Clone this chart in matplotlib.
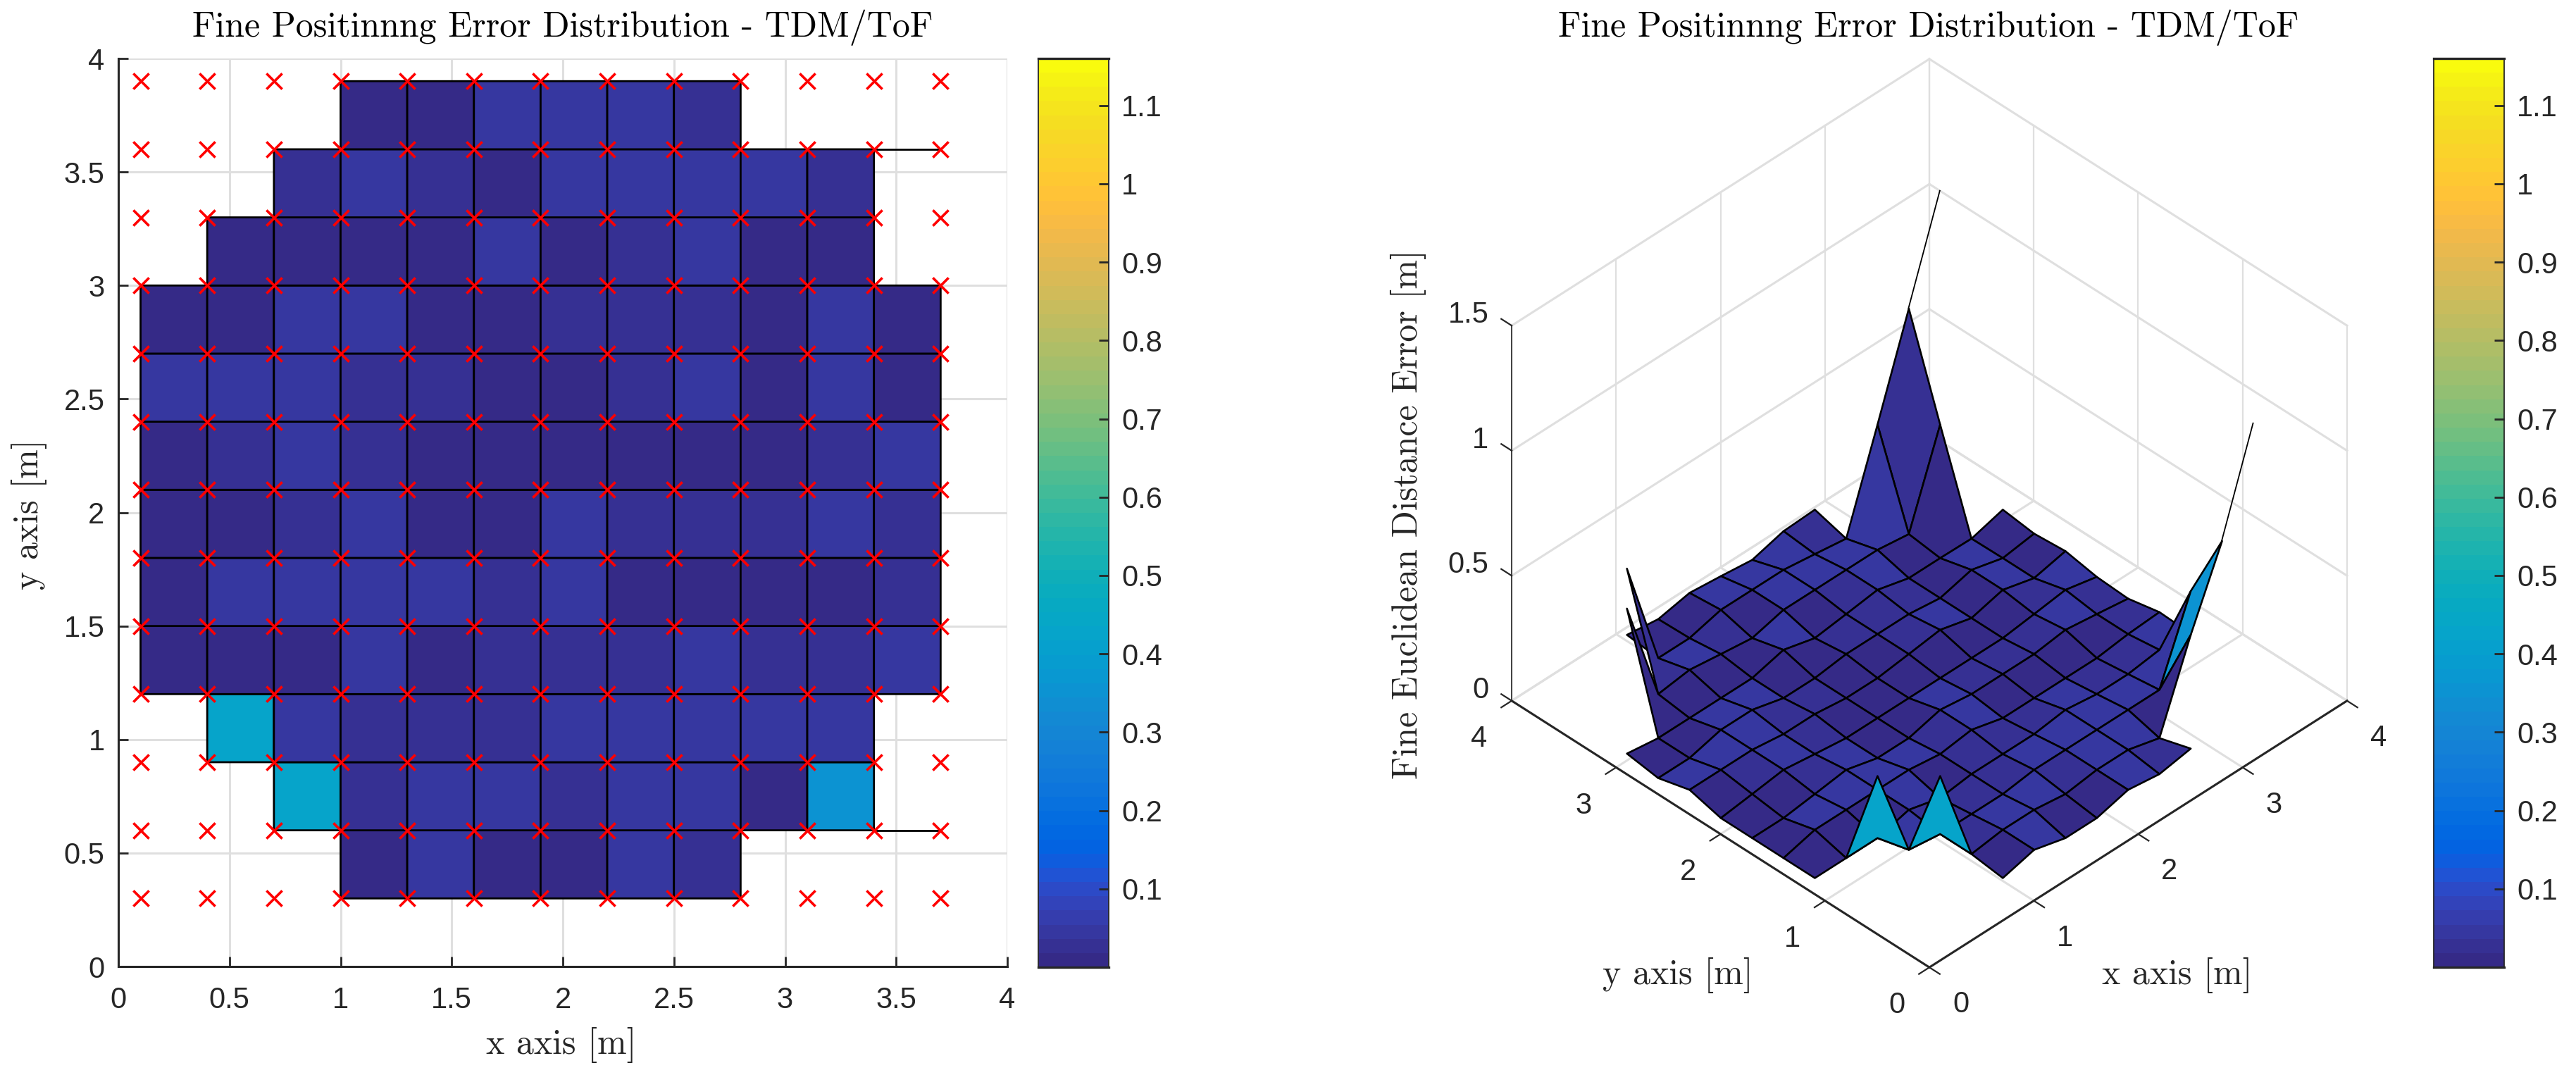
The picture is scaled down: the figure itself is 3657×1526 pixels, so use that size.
import matplotlib
matplotlib.use('Agg')
import matplotlib.pyplot as plt
import numpy as np
from matplotlib.colors import ListedColormap, Normalize
from matplotlib.cm import ScalarMappable
from mpl_toolkits.mplot3d import proj3d
from mpl_toolkits.mplot3d.art3d import Poly3DCollection

plt.rcParams['font.family'] = ['Liberation Sans', 'DejaVu Sans']
plt.rcParams['axes.unicode_minus'] = False

W, H = 3657, 1526
DARK = '#262626'
GRID = '#dfdfdf'
TITLE = 'Fine Positinnng Error Distribution - TDM/ToF'
TITLE_FONT = ['cmr10', 'DejaVu Serif']

x_vals = [0.1, 0.4, 0.7, 1.0, 1.3, 1.6, 1.9, 2.2, 2.5, 2.8, 3.1, 3.4, 3.7]
y_vals = [0.3, 0.6, 0.9, 1.2, 1.5, 1.8, 2.1, 2.4, 2.7, 3.0, 3.3, 3.6, 3.9]

n = np.nan
# error per grid point, one row per y value (0.3 first)
z_rows = [
    [n, n, n, .012, .045, .012, .012, .045, .028, .050, n, n, n],
    [n, n, .420, .028, .045, .045, .028, .045, .045, .012, .345, .640, 1.03],
    [n, .420, .045, .028, .028, .028, .045, .045, .045, .045, .045, .360, n],
    [.012, .012, .012, .045, .012, .028, .028, .028, .045, .028, .028, .045, .030],
    [.012, .045, .045, .045, .045, .028, .045, .012, .012, .012, .012, .028, .036],
    [.012, .012, .028, .045, .012, .012, .045, .028, .028, .028, .045, .028, .010],
    [.012, .028, .045, .028, .012, .012, .012, .012, .012, .012, .028, .045, .017],
    [.045, .045, .045, .028, .028, .012, .012, .028, .045, .012, .045, .012, .040],
    [.012, .012, .045, .045, .012, .012, .028, .028, .028, .012, .045, .012, .030],
    [.030, .012, .012, .012, .012, .045, .012, .028, .045, .012, .012, .010, .046],
    [n, .450, .028, .045, .028, .012, .045, .045, .045, .045, .028, .386, n],
    [n, n, .450, .012, .012, .045, .045, .045, .028, .010, .386, .770, 1.16],
    [n, n, n, .025, .008, .033, .020, .005, .040, .046, n, n, n],
]

axis_ticks = [0, 0.5, 1, 1.5, 2, 2.5, 3, 3.5, 4]
axis_tick_labels = ['0', '0.5', '1', '1.5', '2', '2.5', '3', '3.5', '4']
floor_ticks = [0, 1, 2, 3, 4]
floor_labels = ['0', '1', '2', '3', '4']
height_ticks = [0, 0.5, 1, 1.5]
height_labels = ['0', '0.5', '1', '1.5']
cbar_ticks = [0.1, 0.2, 0.3, 0.4, 0.5, 0.6, 0.7, 0.8, 0.9, 1.0, 1.1]
cbar_labels = ['0.1', '0.2', '0.3', '0.4', '0.5', '0.6', '0.7', '0.8', '0.9', '1', '1.1']
c_min, c_max = 0.0, 1.16

parula = [
    (0.2081, 0.1663, 0.5292), (0.2116, 0.1898, 0.5777), (0.2123, 0.2138, 0.6270), (0.2081, 0.2386, 0.6771),
    (0.1959, 0.2645, 0.7279), (0.1707, 0.2919, 0.7792), (0.1253, 0.3242, 0.8303), (0.0591, 0.3598, 0.8683),
    (0.0117, 0.3875, 0.8820), (0.0060, 0.4086, 0.8828), (0.0165, 0.4266, 0.8786), (0.0329, 0.4430, 0.8720),
    (0.0498, 0.4586, 0.8641), (0.0629, 0.4737, 0.8554), (0.0723, 0.4887, 0.8467), (0.0779, 0.5040, 0.8384),
    (0.0793, 0.5200, 0.8312), (0.0749, 0.5375, 0.8263), (0.0641, 0.5570, 0.8240), (0.0488, 0.5772, 0.8228),
    (0.0343, 0.5966, 0.8199), (0.0265, 0.6137, 0.8135), (0.0239, 0.6287, 0.8038), (0.0231, 0.6418, 0.7913),
    (0.0228, 0.6535, 0.7768), (0.0267, 0.6642, 0.7607), (0.0384, 0.6743, 0.7436), (0.0590, 0.6838, 0.7254),
    (0.0843, 0.6928, 0.7062), (0.1133, 0.7015, 0.6859), (0.1453, 0.7098, 0.6646), (0.1801, 0.7177, 0.6424),
    (0.2178, 0.7250, 0.6193), (0.2586, 0.7317, 0.5954), (0.3022, 0.7376, 0.5712), (0.3482, 0.7424, 0.5473),
    (0.3953, 0.7459, 0.5244), (0.4420, 0.7481, 0.5033), (0.4871, 0.7491, 0.4840), (0.5300, 0.7491, 0.4661),
    (0.5709, 0.7485, 0.4494), (0.6099, 0.7473, 0.4337), (0.6473, 0.7456, 0.4188), (0.6834, 0.7435, 0.4044),
    (0.7184, 0.7411, 0.3905), (0.7525, 0.7384, 0.3768), (0.7858, 0.7356, 0.3633), (0.8185, 0.7327, 0.3498),
    (0.8507, 0.7299, 0.3360), (0.8824, 0.7274, 0.3217), (0.9139, 0.7258, 0.3063), (0.9450, 0.7261, 0.2886),
    (0.9739, 0.7314, 0.2666), (0.9938, 0.7455, 0.2403), (0.9990, 0.7653, 0.2164), (0.9955, 0.7861, 0.1967),
    (0.9880, 0.8066, 0.1794), (0.9789, 0.8271, 0.1633), (0.9697, 0.8481, 0.1475), (0.9626, 0.8705, 0.1309),
    (0.9589, 0.8949, 0.1132), (0.9598, 0.9218, 0.0948), (0.9661, 0.9514, 0.0755), (0.9763, 0.9831, 0.0538),
]
cmap = ListedColormap(parula)
norm = Normalize(c_min, c_max)


def px_axes(left, top, right, bottom, **kw):
    return fig.add_axes([left / W, 1 - bottom / H, (right - left) / W, (bottom - top) / H], **kw)


def add_colorbar(left, right):
    cax = px_axes(left, 83, right, 1373)
    cb = fig.colorbar(ScalarMappable(norm=norm, cmap=cmap), cax=cax, ticks=cbar_ticks)
    cax.set_yticklabels(cbar_labels)
    cax.tick_params(direction='in', length=10, width=2, color=DARK, labelcolor=DARK, labelsize=30, pad=13, right=True)
    cb.outline.set_edgecolor(DARK)
    cb.outline.set_linewidth(1.3)
    for v in (c_min, c_max):
        cax.plot([0, 1], [v, v], color=DARK, lw=2.4, clip_on=False, transform=cax.get_yaxis_transform())


def cell_is_valid(Z, j, i):
    return not np.isnan(Z[j:j + 2, i:i + 2]).any()


def free_edges(Z):
    # edges between two valid points that do not touch any drawn cell
    edges = []
    rows, cols = Z.shape
    for j in range(rows):
        for i in range(cols - 1):
            if np.isnan(Z[j, i]) or np.isnan(Z[j, i + 1]):
                continue
            below = j > 0 and cell_is_valid(Z, j - 1, i)
            above = j < rows - 1 and cell_is_valid(Z, j, i)
            if not below and not above:
                edges.append((j, i))
    return edges


def label3d(x, y, z, s, ha='center'):
    # plain 2D text at the projected point of the 3D position
    u, v, _ = proj3d.proj_transform(x, y, z, ax3.get_proj())
    ax3.text2D(u, v, s, transform=ax3.transData, fontsize=30, color=DARK, ha=ha, va='center')


X = np.array(x_vals)
Y = np.array(y_vals)
Z = np.array(z_rows)
XX, YY = np.meshgrid(X, Y)

fig = plt.figure(figsize=(W / 100, H / 100), dpi=100, facecolor='white')

# ---- left: top view ----
ax = px_axes(168, 83, 1430, 1372)
mask = np.array([[not cell_is_valid(Z, j, i) for i in range(12)] for j in range(12)])
ax.pcolor(X, Y, np.ma.array(Z[:-1, :-1], mask=mask), cmap=cmap, norm=norm,
          edgecolors='k', linewidths=2.0, zorder=2)
for j, i in free_edges(Z):
    ax.plot(X[i:i + 2], [Y[j], Y[j]], color='k', lw=2.0, zorder=2)
ax.scatter(XX.ravel(), YY.ravel(), marker='x', s=16 ** 2, c='#ff0000', linewidths=2.6, zorder=3, clip_on=False)
ax.set_xlim(0, 4)
ax.set_ylim(0, 4)
ax.set_xticks(axis_ticks)
ax.set_xticklabels(axis_tick_labels)
ax.set_yticks(axis_ticks)
ax.set_yticklabels(axis_tick_labels)
ax.grid(True, color=GRID, lw=2.2, zorder=0)
ax.set_axisbelow(True)
ax.tick_params(direction='in', length=10, width=2, color=DARK, labelcolor=DARK, labelsize=30, pad=14)
ax.tick_params(axis='x', pad=20.5)
ax.spines[['top', 'right']].set_visible(False)
ax.spines[['left', 'bottom']].set_color(DARK)
ax.spines[['left', 'bottom']].set_linewidth(2.2)
fig.text(799 / W, 1 - 39 / H, TITLE, family=TITLE_FONT, fontsize=36, ha='center', va='center', color='k')
fig.text(797 / W, 1 - 1483 / H, 'x axis [m]', family=TITLE_FONT, fontsize=36, ha='center', va='center', color=DARK)
fig.text(41 / W, 1 - 730 / H, 'y axis [m]', family=TITLE_FONT, fontsize=36, ha='center', va='center',
         rotation=90, color=DARK)
add_colorbar(1474, 1574)

# ---- right: surface ----
S = 1400
ax3 = fig.add_axes([(2739 - 0.5135 * S) / W, (797.5 - 0.5135 * S) / H, S / W, S / H], projection='3d', proj_type='ortho')
ax3.set_axis_off()
ax3.computed_zorder = False
ax3.view_init(elev=39.66, azim=-135)
ax3.set_box_aspect((1, 1, 0.825), zoom=0.952)
ax3.set_xlim(0, 4)
ax3.set_ylim(0, 4)
ax3.set_zlim(0, 1.5)

# back walls and floor
for t in floor_ticks:
    ax3.plot([t, t], [4, 4], [0, 1.5], color=GRID, lw=1.6, zorder=1)
    ax3.plot([4, 4], [t, t], [0, 1.5], color=GRID, lw=1.6, zorder=1)
    ax3.plot([t, t], [0, 4], [0, 0], color=GRID, lw=2.2, zorder=1)
    ax3.plot([0, 4], [t, t], [0, 0], color=GRID, lw=2.2, zorder=1)
for h in height_ticks:
    ax3.plot([0, 4], [4, 4], [h, h], color=GRID, lw=2.2, zorder=1)
    ax3.plot([4, 4], [0, 4], [h, h], color=GRID, lw=2.2, zorder=1)

# axis lines, ticks and their labels
ax3.plot([0, 4], [0, 0], [0, 0], color=DARK, lw=2.2, zorder=2)
ax3.plot([0, 0], [0, 4], [0, 0], color=DARK, lw=2.2, zorder=2)
ax3.plot([0, 0], [4, 4], [0, 1.5], color=DARK, lw=1.2, zorder=2)
for t, label in zip(floor_ticks, floor_labels):
    ax3.plot([t, t], [0, -0.1], [0, 0], color=DARK, lw=1.6, zorder=2)
    ax3.plot([0, -0.1], [t, t], [0, 0], color=DARK, lw=1.6, zorder=2)
    label3d(t, -0.3, -0.07, label)
    label3d(-0.31, t, -0.07, label)
for h, label in zip(height_ticks, height_labels):
    ax3.plot([0, 0], [4, 4.1], [h, h], color=DARK, lw=1.6, zorder=2)
    label3d(0, 4.22, h - 0.017, label, ha='right')

# surface cells, back to front
for j in range(12):
    for i in range(12):
        if not cell_is_valid(Z, j, i):
            continue
        verts = [(X[i], Y[j], Z[j, i]), (X[i + 1], Y[j], Z[j, i + 1]),
                 (X[i + 1], Y[j + 1], Z[j + 1, i + 1]), (X[i], Y[j + 1], Z[j + 1, i])]
        poly = Poly3DCollection([verts], facecolors=[cmap(norm(Z[j, i]))], edgecolors='k', linewidths=1.9)
        ax3.add_collection3d(poly, autolim=False)
        poly.set_zorder(100 - i - j)
for j, i in free_edges(Z):
    ax3.plot(X[i:i + 2], [Y[j], Y[j]], Z[j, i:i + 2], color='k', lw=1.3, zorder=100 - i - j)

fig.text(2738 / W, 1 - 39 / H, TITLE, family=TITLE_FONT, fontsize=36, ha='center', va='center', color='k')
fig.text(3091 / W, 1 - 1384 / H, 'x axis [m]', family=TITLE_FONT, fontsize=36, ha='center', va='center', color=DARK)
fig.text(2382 / W, 1 - 1384 / H, 'y axis [m]', family=TITLE_FONT, fontsize=36, ha='center', va='center', color=DARK)
fig.text(1999 / W, 1 - 730 / H, 'Fine Euclidean Distance Error [m]', family=TITLE_FONT, fontsize=36,
         ha='center', va='center', rotation=90, color=DARK)
add_colorbar(3455, 3555)

fig.savefig('out.png', dpi=100)
